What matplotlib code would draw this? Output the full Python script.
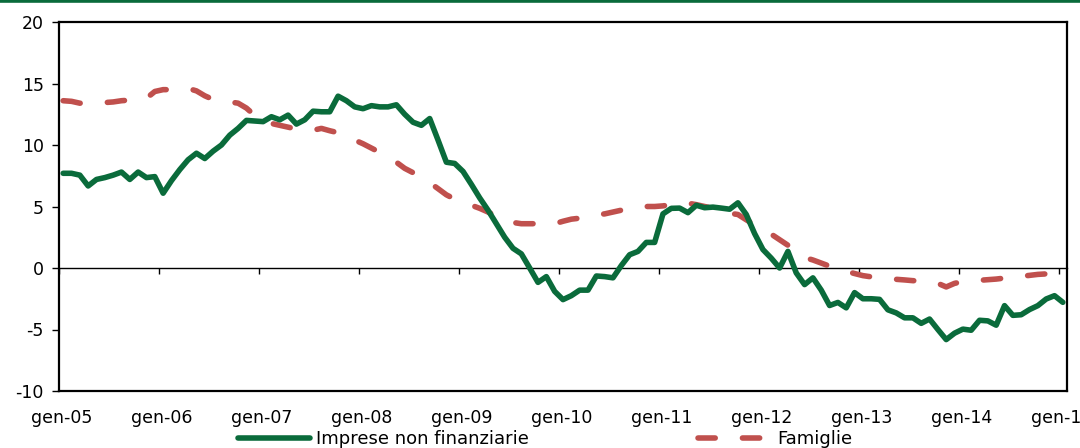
import numpy as np
import matplotlib
matplotlib.use("Agg")
import matplotlib.pyplot as plt
from matplotlib.lines import Line2D
from matplotlib.transforms import ScaledTranslation

# ---- data (monthly, Jan 2005 - Jan 2015) ----
tick_labels = ["gen-05", "gen-06", "gen-07", "gen-08", "gen-09", "gen-10",
               "gen-11", "gen-12", "gen-13", "gen-14", "gen-15"]
series_names = ["Imprese non finanziarie", "Famiglie"]

imprese = [7.7, 7.7, 7.55, 6.67, 7.2, 7.35, 7.55, 7.8, 7.2, 7.8, 7.35, 7.43,
           6.08, 7.1, 8.0, 8.8, 9.33, 8.9, 9.5, 10.0, 10.8, 11.35, 12.0, 11.95,
           11.9, 12.3, 12.05, 12.43, 11.7, 12.05, 12.75, 12.7, 12.7, 13.97, 13.6, 13.1,
           12.95, 13.2, 13.1, 13.1, 13.27, 12.5, 11.85, 11.6, 12.15, 10.4, 8.6, 8.5,
           7.85, 6.8, 5.7, 4.7, 3.6, 2.5, 1.6, 1.15, 0.0, -1.17, -0.7, -1.9,
           -2.57, -2.25, -1.8, -1.8, -0.65, -0.7, -0.8, 0.2, 1.08, 1.35, 2.08, 2.08,
           4.4, 4.85, 4.87, 4.5, 5.1, 4.9, 4.95, 4.87, 4.78, 5.3, 4.35, 2.8,
           1.5, 0.8, 0.0, 1.35, -0.4, -1.35, -0.8, -1.8, -3.05, -2.8, -3.24, -2.0,
           -2.5, -2.5, -2.55, -3.4, -3.65, -4.05, -4.05, -4.5, -4.15, -5.0, -5.82, -5.3,
           -4.97, -5.06, -4.25, -4.3, -4.65, -3.06, -3.85, -3.8, -3.38, -3.06, -2.52, -2.25, -2.79]

famiglie = [13.6, 13.55, 13.4, 13.4, 13.4, 13.45, 13.5, 13.6, 13.65, 13.7, 13.8, 14.35,
            14.5, 14.5, 14.55, 14.6, 14.4, 14.0, 13.7, 13.55, 13.5, 13.4, 13.0, 12.4,
            12.0, 11.75, 11.6, 11.45, 11.3, 11.2, 11.2, 11.35, 11.16, 11.0, 10.7, 10.4,
            10.1, 9.75, 9.4, 8.95, 8.6, 8.1, 7.75, 7.35, 6.94, 6.45, 5.95, 5.6,
            5.35, 5.1, 4.85, 4.55, 4.2, 3.85, 3.7, 3.6, 3.6, 3.6, 3.6, 3.6,
            3.8, 3.97, 4.05, 4.2, 4.32, 4.4, 4.55, 4.7, 4.85, 5.0, 5.0, 5.0,
            5.05, 5.15, 5.25, 5.27, 5.15, 5.0, 4.85, 4.65, 4.45, 4.35, 3.92, 3.5,
            3.15, 2.75, 2.3, 1.85, 1.3, 0.85, 0.65, 0.4, 0.15, -0.05, -0.27, -0.45,
            -0.62, -0.72, -0.8, -0.87, -0.92, -0.97, -1.03, -1.05, -1.08, -1.25, -1.54, -1.25,
            -1.1, -1.05, -1.0, -0.95, -0.9, -0.82, -0.75, -0.68, -0.6, -0.52, -0.48, -0.42, -0.38]

GREEN = "#0a6b3b"
RED = "#c0504d"

plt.rcParams["font.family"] = ["DejaVu Sans"]
plt.rcParams["axes.unicode_minus"] = False
FS = 12.5

months = np.arange(len(imprese))
xpos = months + 0.5          # monthly points placed mid-month
tick_pos = np.arange(0, 121, 12)

fig = plt.figure(figsize=(10.8, 4.48), dpi=100)
ax = fig.add_axes([59 / 1080, 1 - 391 / 448, (1067 - 59) / 1080, (391 - 22) / 448])

l1, = ax.plot(xpos, imprese, color=GREEN, lw=4.0, solid_joinstyle="round",
              solid_capstyle="round", label=series_names[0], zorder=3)
l2, = ax.plot(xpos, famiglie, color=RED, lw=4.0, linestyle=(0, (3.1, 4.9)),
              dash_capstyle="round", label=series_names[1], zorder=2)

ax.set_xlim(0, 121)
ax.set_ylim(-10, 20)
ax.set_yticks(np.arange(-10, 21, 5))
ax.tick_params(axis="y", direction="out", length=5, width=1, labelsize=FS, pad=6)

ax.set_xticks(tick_pos)
ax.set_xticklabels(tick_labels)
ax.tick_params(axis="x", length=0, labelsize=FS, pad=13)
for lab in ax.get_xticklabels():
    lab.set_transform(lab.get_transform() + ScaledTranslation(3 / 100, 0, fig.dpi_scale_trans))

for s in ax.spines.values():
    s.set_linewidth(1.6)
    s.set_color("black")

# zero line with tick marks
sec = ax.secondary_xaxis(1 / 3)
sec.set_xticks(tick_pos)
sec.xaxis.set_ticks_position("bottom")
sec.tick_params(axis="x", direction="out", length=4, width=1, labelbottom=False, labeltop=False)
sec.spines["bottom"].set_linewidth(1.0)
sec.spines["top"].set_visible(False)

# top green rule
fig.add_artist(Line2D([0, 1], [1 - 1.5 / 448, 1 - 1.5 / 448], transform=fig.transFigure,
                      color=GREEN, lw=2.6))

# legend
fig.legend([l1], [series_names[0]], loc="center left", bbox_to_anchor=(238 / 1080, 1 - 439 / 448),
           frameon=False, fontsize=FS + 0.5, handlelength=4.0, handletextpad=0.3, borderpad=0, borderaxespad=0)
fig.legend([l2], [series_names[1]], loc="center left", bbox_to_anchor=(698 / 1080, 1 - 439 / 448),
           frameon=False, fontsize=FS + 0.5, handlelength=3.9, handletextpad=0.5, borderpad=0, borderaxespad=0)

fig.savefig("out.png", dpi=100)
